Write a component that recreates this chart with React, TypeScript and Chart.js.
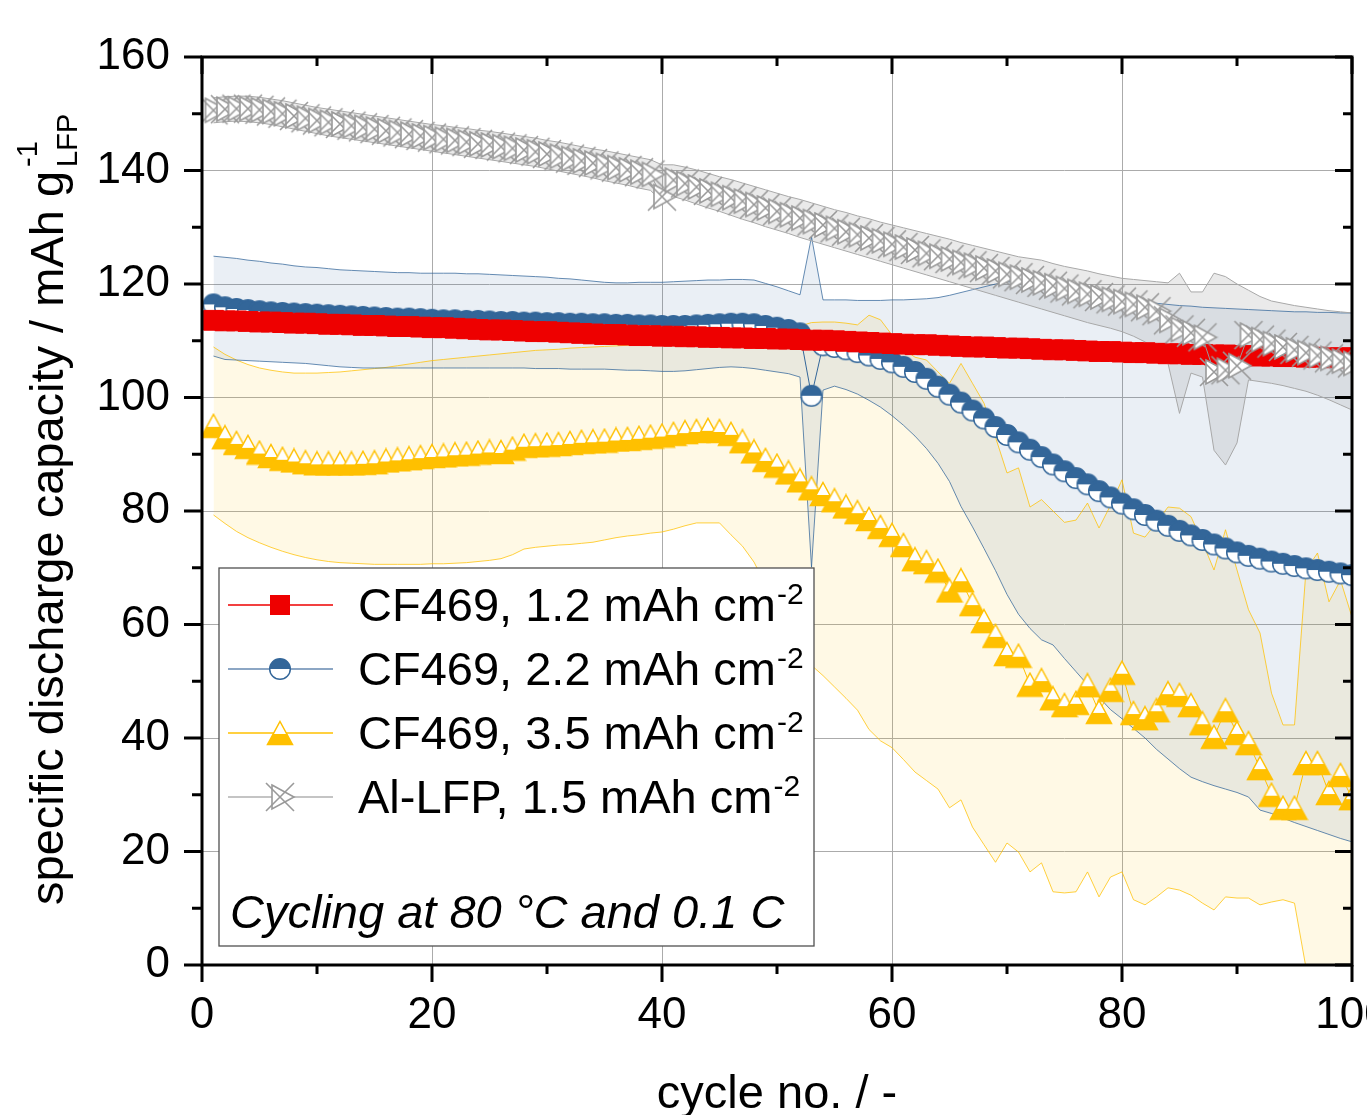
import React, { useEffect, useRef } from 'react';
import { Chart, registerables } from 'chart.js';

Chart.register(...registerables);

const FONT = "'Liberation Sans', Arial, Helvetica, sans-serif";
const RED = '#EE0000';
const BLUE = '#336699';
const YELLOW = '#FFC000';
const GREY = '#999999';

// cycle numbers
const cycles = [
  1, 2, 3, 4, 5, 6, 7, 8, 9, 10,
  11, 12, 13, 14, 15, 16, 17, 18, 19, 20,
  21, 22, 23, 24, 25, 26, 27, 28, 29, 30,
  31, 32, 33, 34, 35, 36, 37, 38, 39, 40,
  41, 42, 43, 44, 45, 46, 47, 48, 49, 50,
  51, 52, 53, 54, 55, 56, 57, 58, 59, 60,
  61, 62, 63, 64, 65, 66, 67, 68, 69, 70,
  71, 72, 73, 74, 75, 76, 77, 78, 79, 80,
  81, 82, 83, 84, 85, 86, 87, 88, 89, 90,
  91, 92, 93, 94, 95, 96, 97, 98, 99, 100,
];

// CF469, 1.2 mAh cm-2
const cf12 = [
  113.6, 113.5, 113.5, 113.4, 113.3, 113.3, 113.2, 113.1, 113.1, 113.0,
  112.9, 112.9, 112.8, 112.7, 112.7, 112.6, 112.5, 112.5, 112.4, 112.3,
  112.3, 112.2, 112.1, 112.0, 111.9, 111.9, 111.8, 111.7, 111.6, 111.6,
  111.5, 111.4, 111.3, 111.2, 111.1, 111.1, 111.0, 110.9, 110.9, 110.8,
  110.8, 110.7, 110.7, 110.6, 110.6, 110.5, 110.5, 110.4, 110.4, 110.3,
  110.3, 110.2, 110.1, 110.1, 110.0, 109.9, 109.8, 109.7, 109.6, 109.5,
  109.4, 109.3, 109.3, 109.2, 109.1, 109.0, 108.9, 108.9, 108.8, 108.7,
  108.7, 108.6, 108.5, 108.4, 108.4, 108.3, 108.2, 108.1, 108.1, 108.0,
  107.9, 107.9, 107.8, 107.7, 107.7, 107.6, 107.6, 107.5, 107.5, 107.4,
  107.4, 107.3, 107.3, 107.2, 107.2, 107.1, 107.1, 107.0, 107.0, 107.0,
];

// CF469, 2.2 mAh cm-2 (mean, upper, lower)
const cf22 = [
  116.4, 115.9, 115.6, 115.4, 115.2, 115.0, 114.9, 114.8, 114.7, 114.6,
  114.5, 114.4, 114.3, 114.2, 114.1, 114.0, 113.9, 113.9, 113.8, 113.7,
  113.6, 113.6, 113.5, 113.5, 113.4, 113.3, 113.3, 113.2, 113.2, 113.1,
  113.1, 113.0, 113.0, 112.9, 112.9, 112.8, 112.8, 112.7, 112.7, 112.6,
  112.6, 112.6, 112.7, 112.8, 112.9, 113.0, 113.0, 112.9, 112.6, 112.3,
  111.9, 111.3, 100.3, 109.2, 108.9, 108.5, 108.0, 107.4, 106.8, 106.2,
  105.4, 104.5, 103.3, 101.9, 100.5, 99.1, 97.7, 96.3, 94.8, 93.4,
  92.1, 90.8, 89.5, 88.2, 87.0, 85.8, 84.7, 83.5, 82.4, 81.3,
  80.3, 79.3, 78.3, 77.4, 76.5, 75.7, 74.9, 74.1, 73.4, 72.7,
  72.1, 71.6, 71.1, 70.7, 70.3, 69.9, 69.6, 69.3, 69.0, 68.7,
];
const cf22Upper = [
  124.9, 124.7, 124.5, 124.2, 124.0, 123.7, 123.5, 123.2, 123.0, 122.9,
  122.7, 122.5, 122.4, 122.3, 122.2, 122.1, 122.0, 122.0, 121.9, 121.9,
  121.9, 121.9, 121.8, 121.8, 121.7, 121.6, 121.5, 121.4, 121.3, 121.2,
  121.0, 120.9, 120.7, 120.5, 120.3, 120.2, 120.2, 120.3, 120.3, 120.3,
  120.4, 120.5, 120.6, 120.7, 120.7, 120.8, 120.8, 120.7, 120.1, 119.5,
  118.8, 118.1, 128.3, 117.2, 117.2, 117.2, 117.1, 117.1, 117.1, 117.2,
  117.2, 117.3, 117.4, 117.6, 118.0, 118.5, 119.0, 119.5, 120.0, 120.4,
  120.4, 120.2, 119.9, 119.5, 119.1, 118.7, 118.3, 118.0, 117.6, 117.3,
  117.0, 116.8, 116.6, 116.4, 116.2, 116.1, 115.9, 115.8, 115.7, 115.6,
  115.5, 115.4, 115.3, 115.2, 115.1, 115.1, 115.0, 115.0, 114.9, 114.9,
];
const cf22Lower = [
  107.3, 106.7, 106.6, 106.5, 106.4, 106.3, 106.2, 106.1, 106.0, 105.8,
  105.6, 105.4, 105.3, 105.2, 105.2, 105.2, 105.2, 105.2, 105.2, 105.2,
  105.2, 105.2, 105.2, 105.2, 105.2, 105.2, 105.2, 105.2, 105.1, 105.1,
  105.1, 105.0, 105.0, 105.0, 105.0, 104.9, 104.8, 104.8, 104.7, 104.6,
  104.6, 104.7, 104.9, 105.1, 105.3, 105.4, 105.3, 105.1, 104.8, 104.5,
  104.2, 103.6, 70.1, 101.3, 102.0, 101.4, 100.6, 99.5, 98.3, 96.8,
  95.1, 93.2, 91.0, 88.4, 85.2, 80.8, 77.2, 73.4, 69.5, 65.3,
  61.8, 59.3, 57.3, 56.4, 54.0, 51.7, 49.4, 47.2, 45.0, 43.4,
  41.7, 40.0, 38.0, 36.3, 34.6, 33.1, 32.3, 31.6, 31.0, 30.4,
  29.6, 27.3, 26.7, 25.9, 25.1, 24.4, 23.7, 23.0, 22.3, 21.7,
];

// CF469, 3.5 mAh cm-2 (mean, upper, lower)
const cf35 = [
  95.0, 93.0, 92.0, 91.3, 90.3, 89.7, 89.2, 88.9, 88.6, 88.4,
  88.4, 88.4, 88.4, 88.5, 88.6, 88.9, 89.1, 89.3, 89.5, 89.7,
  89.8, 90.0, 90.1, 90.3, 90.5, 90.4, 91.0, 91.5, 91.6, 91.7,
  91.8, 92.0, 92.2, 92.3, 92.4, 92.6, 92.7, 92.9, 93.1, 93.3,
  93.6, 93.9, 94.1, 94.3, 94.1, 93.6, 92.3, 90.5, 89.0, 88.0,
  86.8, 85.4, 84.0, 83.0, 81.9, 80.8, 79.8, 78.6, 77.2, 75.8,
  74.0, 71.5, 71.0, 69.5, 66.0, 67.8, 63.6, 60.6, 58.0, 54.8,
  54.5, 49.4, 50.2, 47.0, 45.8, 46.2, 49.3, 44.6, 48.5, 51.5,
  44.4, 43.5, 44.9, 47.9, 47.6, 45.8, 42.6, 40.2, 44.9, 40.9,
  39.1, 34.7, 30.0, 27.7, 27.7, 35.6, 35.6, 30.3, 33.5, 29.4,
];
const cf35Upper = [
  108.9, 107.6, 106.6, 105.8, 105.2, 104.8, 104.5, 104.3, 104.3, 104.3,
  104.4, 104.5, 104.7, 104.9, 105.1, 105.3, 105.6, 105.9, 106.2, 106.5,
  106.7, 106.9, 107.1, 107.3, 107.5, 107.7, 107.9, 108.1, 108.3, 108.4,
  108.5, 108.7, 108.8, 108.9, 109.0, 109.1, 109.2, 109.3, 109.4, 109.5,
  109.6, 109.8, 110.0, 110.2, 110.5, 110.8, 111.2, 111.6, 112.0, 112.3,
  112.5, 112.6, 113.2, 113.3, 113.3, 113.1, 112.8, 114.5, 113.7, 111.0,
  108.5, 107.1, 106.6, 104.5, 102.5, 106.0, 102.5, 99.0, 93.0, 86.7,
  87.6, 80.7, 82.0, 80.0, 78.0, 78.4, 81.4, 77.0, 81.0, 85.5,
  76.1, 75.4, 78.0, 80.7, 80.5, 79.0, 74.5, 69.6, 76.7, 69.6,
  62.6, 58.5, 47.9, 42.3, 42.3, 69.6, 72.6, 64.0, 67.8, 61.3,
];
const cf35Lower = [
  79.3, 77.8, 76.4, 75.3, 74.4, 73.6, 72.9, 72.3, 71.8, 71.4,
  71.1, 70.9, 70.8, 70.7, 70.6, 70.6, 70.6, 70.6, 70.6, 70.7,
  70.7, 70.8, 70.9, 71.1, 71.3, 71.6, 72.3, 73.3, 73.6, 73.8,
  74.0, 74.1, 74.3, 74.5, 74.9, 75.3, 75.6, 75.8, 76.1, 76.3,
  76.8, 77.4, 77.9, 77.9, 77.9, 75.8, 73.8, 71.0, 67.0, 63.0,
  59.5, 56.0, 52.8, 51.0, 49.0, 47.0, 44.9, 41.5, 39.5, 38.3,
  36.2, 34.0, 32.5, 31.0, 27.7, 29.1, 24.3, 21.2, 18.1, 21.5,
  19.9, 16.4, 18.0, 12.9, 12.7, 12.9, 16.4, 12.0, 15.5, 16.4,
  11.5, 10.6, 12.0, 13.6, 13.2, 12.3, 10.9, 9.7, 12.0, 11.8,
  11.8, 10.6, 11.1, 11.5, 10.9, -0.5, -6.0, -5.0, -7.0, -6.0,
];

// Al-LFP, 1.5 mAh cm-2 (mean, upper, lower)
const alLfp = [
  150.6, 150.8, 150.9, 150.9, 150.7, 150.4, 150.0, 149.6, 149.2, 148.8,
  148.5, 148.2, 147.9, 147.6, 147.3, 147.0, 146.7, 146.4, 146.1, 145.8,
  145.5, 145.3, 145.0, 144.7, 144.5, 144.2, 143.9, 143.6, 143.3, 142.9,
  142.5, 142.1, 141.7, 141.3, 140.9, 140.5, 140.1, 139.7, 139.3, 135.4,
  138.3, 137.7, 137.1, 136.4, 135.8, 135.2, 134.6, 134.0, 133.4, 132.8,
  132.2, 131.6, 131.0, 130.4, 129.8, 129.2, 128.7, 128.1, 127.6, 127.0,
  126.5, 126.0, 125.4, 124.9, 124.4, 123.8, 123.3, 122.8, 122.3, 121.7,
  121.2, 120.7, 120.2, 119.7, 119.2, 118.7, 118.2, 117.7, 117.3, 116.9,
  116.4, 115.9, 115.2, 113.6, 112.0, 111.4, 110.6, 104.5, 104.8, 105.6,
  111.0, 110.2, 109.5, 108.9, 108.4, 107.9, 107.4, 106.9, 106.4, 106.0,
];
const alLfpUpper = [
  152.8, 153.0, 153.1, 153.1, 152.9, 152.6, 152.3, 151.9, 151.5, 151.1,
  150.8, 150.5, 150.2, 149.9, 149.6, 149.3, 149.0, 148.7, 148.4, 148.1,
  147.9, 147.6, 147.4, 147.1, 146.9, 146.6, 146.3, 146.0, 145.7, 145.3,
  145.0, 144.6, 144.2, 143.8, 143.5, 143.1, 142.7, 142.3, 141.9, 141.0,
  141.0, 140.6, 140.1, 139.5, 138.9, 138.4, 137.8, 137.2, 136.6, 136.0,
  135.4, 134.9, 134.3, 133.7, 133.1, 132.6, 132.0, 131.5, 130.9, 130.4,
  129.9, 129.4, 128.9, 128.4, 127.9, 127.3, 126.8, 126.3, 125.8, 125.3,
  124.8, 124.5, 124.2, 123.6, 123.1, 122.7, 122.3, 121.8, 121.4, 121.0,
  120.8, 120.6, 120.4, 120.2, 121.9, 118.6, 118.6, 121.9, 121.3, 120.0,
  118.9, 117.8, 117.0, 116.6, 116.2, 115.9, 115.6, 115.3, 115.1, 114.9,
];
const alLfpLower = [
  148.4, 148.6, 148.7, 148.6, 148.4, 148.1, 147.7, 147.3, 146.9, 146.5,
  146.1, 145.8, 145.5, 145.2, 144.9, 144.6, 144.3, 144.0, 143.7, 143.4,
  143.1, 142.8, 142.5, 142.2, 141.9, 141.6, 141.3, 141.0, 140.7, 140.3,
  139.9, 139.5, 139.1, 138.7, 138.2, 137.8, 137.4, 136.9, 136.5, 134.5,
  135.4, 134.8, 134.1, 133.4, 132.8, 132.1, 131.4, 130.8, 130.1, 129.5,
  128.9, 128.2, 127.6, 127.0, 126.4, 125.8, 125.2, 124.6, 124.0, 123.4,
  122.8, 122.2, 121.6, 121.0, 120.4, 119.8, 119.2, 118.6, 118.0, 117.4,
  116.8, 116.2, 115.6, 115.0, 114.4, 113.8, 113.2, 112.7, 112.2, 111.6,
  110.8, 109.8, 108.4, 106.0, 97.2, 104.3, 103.6, 90.7, 88.1, 92.0,
  103.1, 102.8, 102.5, 102.1, 101.6, 101.1, 100.4, 99.6, 98.7, 97.8,
];

const legendLabels = [
  'CF469, 1.2 mAh cm',
  'CF469, 2.2 mAh cm',
  'CF469, 3.5 mAh cm',
  'Al-LFP, 1.5 mAh cm',
];
const legendSup = '-2';
const noteText = 'Cycling at 80 \u00B0C and 0.1 C';
const yTitleMain = 'specific discharge capacity / mAh g';
const yTitleSup = '-1';
const yTitleSub = 'LFP';
const xTitle = 'cycle no. / -';

function makeHalfCircle(): HTMLCanvasElement {
  const c = document.createElement('canvas');
  c.width = 24;
  c.height = 24;
  const g = c.getContext('2d')!;
  g.beginPath();
  g.arc(12, 12, 10.3, 0, Math.PI * 2);
  g.fillStyle = '#ffffff';
  g.fill();
  g.beginPath();
  g.arc(12, 12, 10.3, Math.PI, Math.PI * 2);
  g.closePath();
  g.fillStyle = BLUE;
  g.fill();
  g.beginPath();
  g.arc(12, 12, 10.3, 0, Math.PI * 2);
  g.lineWidth = 1.5;
  g.strokeStyle = BLUE;
  g.stroke();
  return c;
}

function makeHalfTriangle(): HTMLCanvasElement {
  const c = document.createElement('canvas');
  c.width = 28;
  c.height = 26;
  const g = c.getContext('2d')!;
  const path = () => {
    g.beginPath();
    g.moveTo(14, 1.5);
    g.lineTo(26.5, 24.5);
    g.lineTo(1.5, 24.5);
    g.closePath();
  };
  path();
  g.fillStyle = '#ffffff';
  g.fill();
  g.save();
  path();
  g.clip();
  g.fillStyle = YELLOW;
  g.fillRect(0, 14, 28, 12);
  g.restore();
  path();
  g.lineWidth = 1.5;
  g.strokeStyle = YELLOW;
  g.stroke();
  return c;
}

function makeCrossTriangle(): HTMLCanvasElement {
  const c = document.createElement('canvas');
  c.width = 32;
  c.height = 32;
  const g = c.getContext('2d')!;
  g.beginPath();
  g.moveTo(8, 4);
  g.lineTo(30, 16);
  g.lineTo(8, 28);
  g.closePath();
  g.fillStyle = '#ffffff';
  g.fill();
  g.lineWidth = 1.6;
  g.strokeStyle = GREY;
  g.stroke();
  g.beginPath();
  g.moveTo(2, 2);
  g.lineTo(30, 30);
  g.moveTo(30, 2);
  g.lineTo(2, 30);
  g.stroke();
  return c;
}

export default function App() {
  const ref = useRef<HTMLCanvasElement>(null);

  useEffect(() => {
    const canvas = ref.current;
    if (!canvas) return;
    document.body.style.margin = '0';
    const circle = makeHalfCircle();
    const tri = makeHalfTriangle();
    const cross = makeCrossTriangle();

    const pts = (ys: number[]) => cycles.map((c, i) => ({ x: c, y: ys[i] }));

    const legendItems = [
      { color: RED, marker: 'rect' as any },
      { color: '#6688B0', marker: circle },
      { color: YELLOW, marker: tri },
      { color: '#B0B0B0', marker: cross },
    ];

    const decor = {
      id: 'decor',
      afterDraw(chart: any) {
        const ctx = chart.ctx as CanvasRenderingContext2D;
        const a = chart.chartArea;
        const xs = chart.scales.x;
        const ys = chart.scales.y;
        ctx.save();

        // legend box
        const L = { left: 219, top: 568, right: 814, bottom: 946 };
        ctx.fillStyle = '#ffffff';
        ctx.fillRect(L.left, L.top, L.right - L.left, L.bottom - L.top);
        ctx.strokeStyle = '#505050';
        ctx.lineWidth = 1.3;
        ctx.strokeRect(L.left, L.top, L.right - L.left, L.bottom - L.top);

        legendItems.forEach((item, i) => {
          const cy = 605 + 64 * i;
          ctx.strokeStyle = item.color;
          ctx.lineWidth = 1.3;
          ctx.beginPath();
          ctx.moveTo(228, cy);
          ctx.lineTo(333, cy);
          ctx.stroke();
          if (item.marker === 'rect') {
            ctx.fillStyle = RED;
            ctx.fillRect(270, cy - 10, 20, 20);
          } else {
            const m = item.marker as HTMLCanvasElement;
            ctx.drawImage(m, 280 - m.width / 2, cy - m.height / 2);
          }
          ctx.fillStyle = '#000000';
          ctx.textAlign = 'left';
          ctx.textBaseline = 'alphabetic';
          ctx.font = `47px ${FONT}`;
          ctx.fillText(legendLabels[i], 358, cy + 16);
          const w = ctx.measureText(legendLabels[i]).width;
          ctx.font = `30px ${FONT}`;
          ctx.fillText(legendSup, 358 + w + 1, cy - 1);
        });

        ctx.fillStyle = '#000000';
        ctx.font = `italic 47px ${FONT}`;
        ctx.fillText(noteText, 230, 928);

        // x title
        ctx.font = `47px ${FONT}`;
        ctx.textAlign = 'center';
        ctx.fillText(xTitle, (a.left + a.right) / 2, 1108);

        // y title
        ctx.save();
        ctx.translate(63, 905);
        ctx.rotate(-Math.PI / 2);
        ctx.textAlign = 'left';
        ctx.font = `47px ${FONT}`;
        ctx.fillText(yTitleMain, 0, 0);
        const tw = ctx.measureText(yTitleMain).width;
        ctx.font = `29px ${FONT}`;
        ctx.fillText(yTitleSup, tw + 4, -26);
        ctx.fillText(yTitleSub, tw + 4, 14);
        ctx.restore();

        // frame and ticks
        ctx.strokeStyle = '#000000';
        ctx.lineWidth = 3;
        ctx.strokeRect(a.left, a.top, a.right - a.left, a.bottom - a.top);
        ctx.beginPath();
        for (let v = 0; v <= 100; v += 10) {
          const px = xs.getPixelForValue(v);
          const major = v % 20 === 0;
          const len = major ? 17 : 9;
          ctx.moveTo(px, a.bottom);
          ctx.lineTo(px, a.bottom + len);
          ctx.moveTo(px, a.top);
          ctx.lineTo(px, a.top + len);
        }
        for (let v = 0; v <= 160; v += 10) {
          const py = ys.getPixelForValue(v);
          const major = v % 20 === 0;
          ctx.moveTo(a.left, py);
          ctx.lineTo(a.left - (major ? 18 : 10), py);
          ctx.moveTo(a.right, py);
          ctx.lineTo(a.right - (major ? 17 : 9), py);
        }
        ctx.stroke();
        ctx.restore();
      },
    };

    const chart = new Chart(canvas, {
      type: 'line',
      data: {
        datasets: [
          // 0,1: CF469 3.5 band
          { label: 'cf35 upper', data: pts(cf35Upper), borderColor: 'rgba(255,192,0,0.75)', borderWidth: 1, pointRadius: 0, fill: false, order: 10 },
          { label: 'cf35 lower', data: pts(cf35Lower), borderColor: 'rgba(255,192,0,0.75)', borderWidth: 1, pointRadius: 0, fill: '-1', backgroundColor: 'rgba(255,192,0,0.1)', order: 10 },
          // 2,3: CF469 2.2 band
          { label: 'cf22 upper', data: pts(cf22Upper), borderColor: 'rgba(51,102,153,0.75)', borderWidth: 1, pointRadius: 0, fill: false, order: 9 },
          { label: 'cf22 lower', data: pts(cf22Lower), borderColor: 'rgba(51,102,153,0.75)', borderWidth: 1, pointRadius: 0, fill: '-1', backgroundColor: 'rgba(51,102,153,0.1)', order: 9 },
          // 4,5: Al-LFP band
          { label: 'al upper', data: pts(alLfpUpper), borderColor: '#A8A8A8', borderWidth: 1, pointRadius: 0, fill: false, order: 8 },
          { label: 'al lower', data: pts(alLfpLower), borderColor: '#A8A8A8', borderWidth: 1, pointRadius: 0, fill: '-1', backgroundColor: 'rgba(140,140,140,0.18)', order: 8 },
          // series
          { label: 'CF469, 2.2 mAh cm-2', data: pts(cf22), borderColor: BLUE, borderWidth: 1, pointStyle: circle as any, pointRadius: 11, fill: false, order: 4 },
          { label: 'CF469, 3.5 mAh cm-2', data: pts(cf35), borderColor: YELLOW, borderWidth: 1, pointStyle: tri as any, pointRadius: 11, fill: false, order: 3 },
          { label: 'CF469, 1.2 mAh cm-2', data: pts(cf12), borderColor: RED, backgroundColor: RED, borderWidth: 1, pointStyle: 'rect', pointRadius: 14, pointBorderWidth: 1, pointBorderColor: RED, pointBackgroundColor: RED, fill: false, order: 2 },
          { label: 'Al-LFP, 1.5 mAh cm-2', data: pts(alLfp), borderColor: GREY, borderWidth: 1, pointStyle: cross as any, pointRadius: 13, fill: false, order: 1 },
        ],
      },
      options: {
        animation: false,
        responsive: false,
        devicePixelRatio: 1,
        events: [],
        layout: { padding: { top: 57, right: 15, bottom: 0, left: 0 } },
        plugins: {
          legend: { display: false },
          tooltip: { enabled: false },
          filler: { propagate: false, drawTime: 'beforeDatasetsDraw' },
        } as any,
        scales: {
          x: {
            type: 'linear',
            min: 0,
            max: 100,
            ticks: { stepSize: 20, color: '#000000', padding: 24, maxRotation: 0, font: { family: FONT, size: 44 } },
            grid: { color: '#ABABAB', lineWidth: 1, drawTicks: false },
            border: { display: false },
            afterFit: (s: any) => {
              s.height = 150;
              s.paddingLeft = 0;
              s.paddingRight = 0;
            },
          },
          y: {
            type: 'linear',
            min: 0,
            max: 160,
            ticks: { stepSize: 20, color: '#000000', padding: 32, font: { family: FONT, size: 44 } },
            grid: { color: '#ABABAB', lineWidth: 1, drawTicks: false },
            border: { display: false },
            afterFit: (s: any) => {
              s.width = 202;
              s.paddingTop = 0;
              s.paddingBottom = 0;
            },
          },
        },
      } as any,
      plugins: [decor],
    });

    return () => chart.destroy();
  }, []);

  return (
    <div style={{ position: 'absolute', left: 0, top: 0, width: 1367, height: 1115, overflow: 'hidden' }}>
      <canvas ref={ref} width={1367} height={1115} style={{ display: 'block', width: 1367, height: 1115 }} />
    </div>
  );
}
